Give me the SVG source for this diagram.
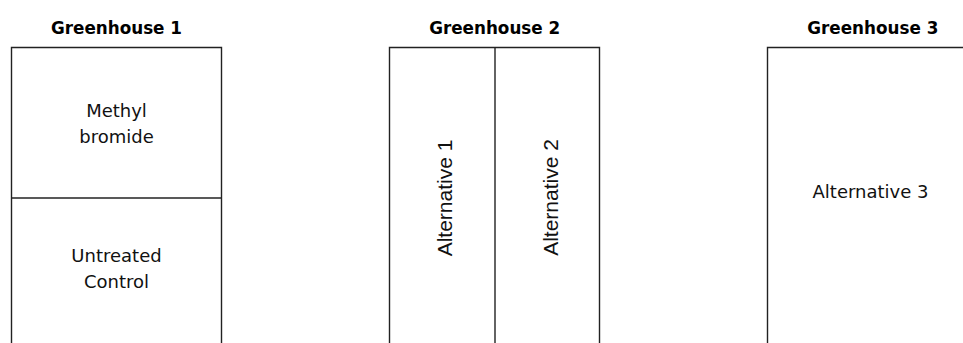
<svg xmlns="http://www.w3.org/2000/svg" width="963" height="343" viewBox="0 0 963 343">
<style>
.box{fill:none;stroke:#222;stroke-width:1.4}
.title{font-family:"DejaVu Sans",Verdana,sans-serif;font-weight:bold;font-size:16.8px;fill:#000;text-anchor:middle}
.lbl{font-family:"DejaVu Sans",Verdana,sans-serif;font-size:18px;fill:#111;text-anchor:middle}
.rot{font-family:"Liberation Sans",Arial,sans-serif;font-size:21px;fill:#111;text-anchor:middle}
</style>
<rect width="963" height="343" fill="#fff"/>
<g id="greenhouse1">
<text class="title" x="116.5" y="33.5">Greenhouse 1</text>
<polyline class="box" points="11.5,343 11.5,47.5 221.5,47.5 221.5,343"/>
<line class="box" x1="11.5" y1="198" x2="221.5" y2="198"/>
<text class="lbl" x="116.5" y="116.5">Methyl</text>
<text class="lbl" x="116.5" y="142.5">bromide</text>
<text class="lbl" x="116.5" y="261.5">Untreated</text>
<text class="lbl" x="116.5" y="287.5">Control</text>
</g>
<g id="greenhouse2">
<text class="title" x="494.7" y="33.5">Greenhouse 2</text>
<polyline class="box" points="389.5,343 389.5,47.5 599.5,47.5 599.5,343"/>
<line class="box" x1="495" y1="47.5" x2="495" y2="343"/>
<text class="rot" transform="translate(452,198) rotate(-90)">Alternative 1</text>
<text class="rot" transform="translate(558,197.5) rotate(-90)">Alternative 2</text>
</g>
<g id="greenhouse3">
<text class="title" x="872.8" y="33.5">Greenhouse 3</text>
<polyline class="box" points="767.5,343 767.5,47.5 980,47.5"/>
<text class="lbl" x="870.5" y="198.3">Alternative 3</text>
</g>
<g id="connectors"></g>
</svg>
